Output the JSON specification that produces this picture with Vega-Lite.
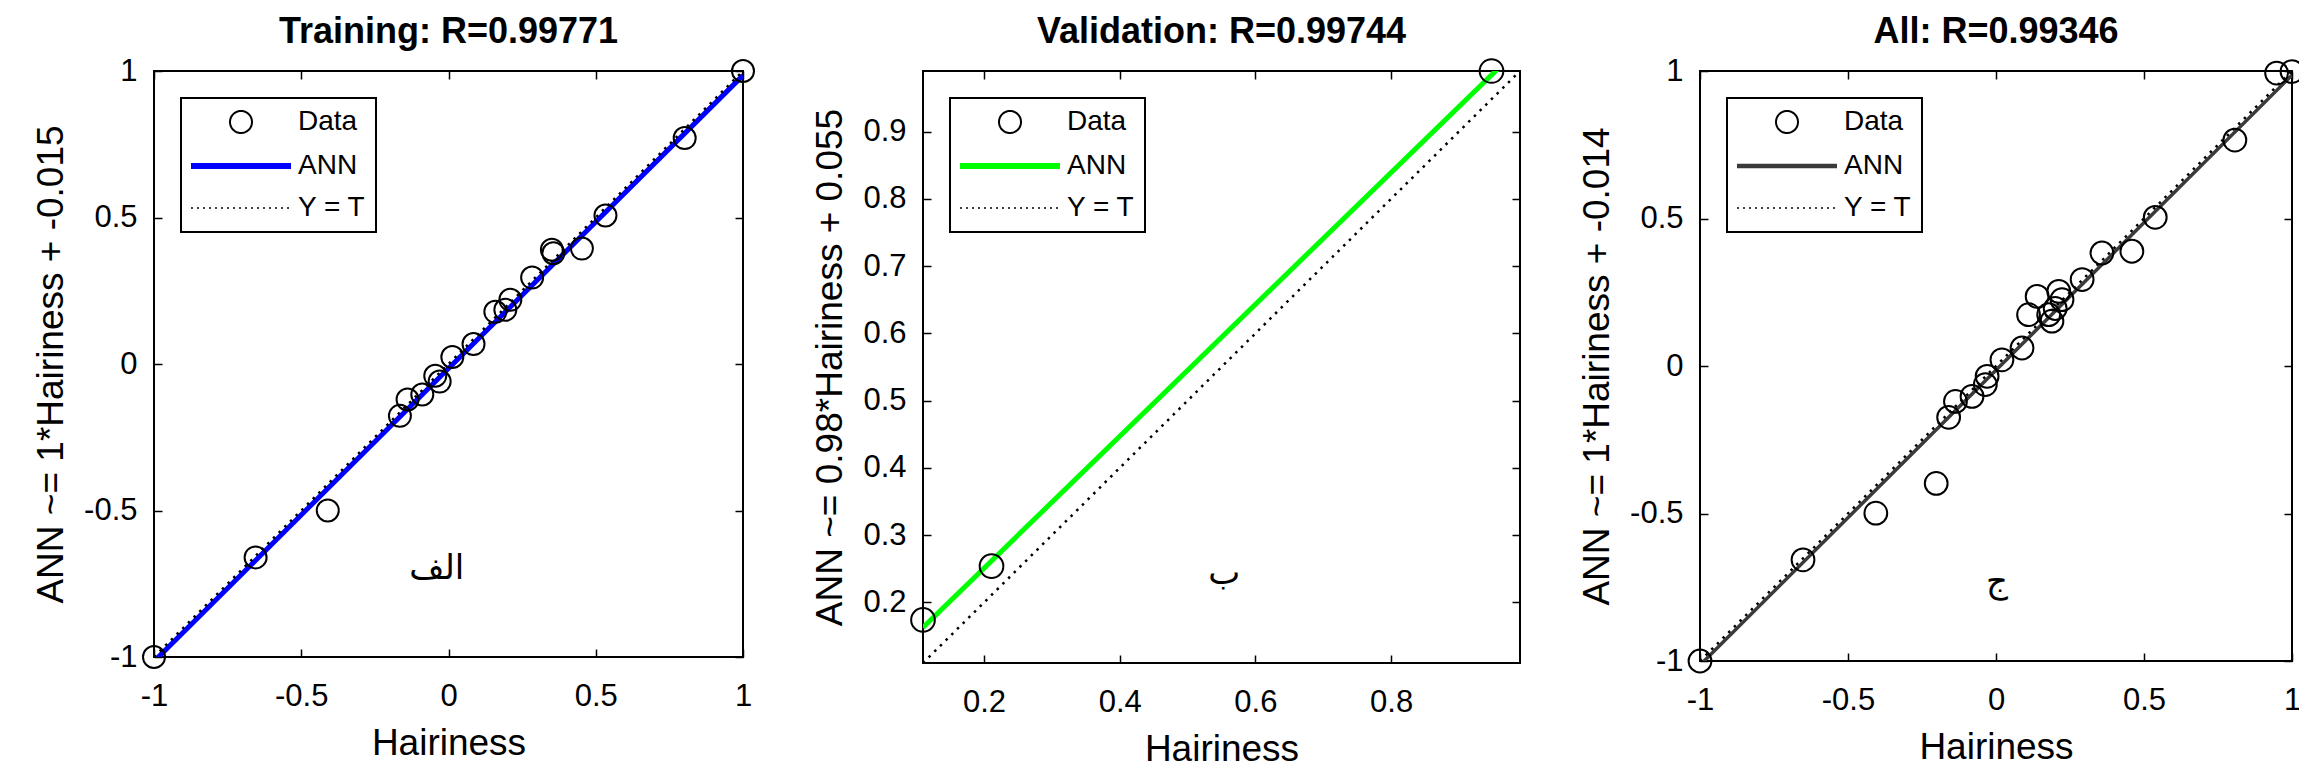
{
  "$schema": "https://vega.github.io/schema/vega-lite/v6.json",
  "padding": {"left": 31, "top": 13, "right": 0, "bottom": 0},
  "background": "white",
  "datasets": {
    "pts": [
      {"panel": "train", "series": "Data", "t": -1, "y": -1},
      {"panel": "train", "series": "Data", "t": -0.655, "y": -0.66},
      {"panel": "train", "series": "Data", "t": -0.41, "y": -0.5},
      {"panel": "train", "series": "Data", "t": -0.165, "y": -0.177},
      {"panel": "train", "series": "Data", "t": -0.139, "y": -0.121},
      {"panel": "train", "series": "Data", "t": -0.089, "y": -0.104},
      {"panel": "train", "series": "Data", "t": -0.045, "y": -0.04},
      {"panel": "train", "series": "Data", "t": -0.03, "y": -0.06},
      {"panel": "train", "series": "Data", "t": 0.013, "y": 0.024},
      {"panel": "train", "series": "Data", "t": 0.085, "y": 0.068},
      {"panel": "train", "series": "Data", "t": 0.159, "y": 0.178},
      {"panel": "train", "series": "Data", "t": 0.193, "y": 0.185},
      {"panel": "train", "series": "Data", "t": 0.21, "y": 0.219},
      {"panel": "train", "series": "Data", "t": 0.284, "y": 0.295},
      {"panel": "train", "series": "Data", "t": 0.351, "y": 0.39},
      {"panel": "train", "series": "Data", "t": 0.356, "y": 0.378},
      {"panel": "train", "series": "Data", "t": 0.453, "y": 0.394},
      {"panel": "train", "series": "Data", "t": 0.533, "y": 0.507},
      {"panel": "train", "series": "Data", "t": 0.802, "y": 0.771},
      {"panel": "train", "series": "Data", "t": 1, "y": 1},
      {"panel": "val", "series": "Data", "t": 0.11, "y": 0.174},
      {"panel": "val", "series": "Data", "t": 0.211, "y": 0.254},
      {"panel": "val", "series": "Data", "t": 0.948, "y": 0.99},
      {"panel": "all", "series": "Data", "t": -1, "y": -1},
      {"panel": "all", "series": "Data", "t": -0.652, "y": -0.657},
      {"panel": "all", "series": "Data", "t": -0.406, "y": -0.499},
      {"panel": "all", "series": "Data", "t": -0.202, "y": -0.398},
      {"panel": "all", "series": "Data", "t": -0.16, "y": -0.174},
      {"panel": "all", "series": "Data", "t": -0.137, "y": -0.12},
      {"panel": "all", "series": "Data", "t": -0.081, "y": -0.103},
      {"panel": "all", "series": "Data", "t": -0.036, "y": -0.063},
      {"panel": "all", "series": "Data", "t": -0.03, "y": -0.035},
      {"panel": "all", "series": "Data", "t": 0.02, "y": 0.021},
      {"panel": "all", "series": "Data", "t": 0.088, "y": 0.061},
      {"panel": "all", "series": "Data", "t": 0.11, "y": 0.174},
      {"panel": "all", "series": "Data", "t": 0.139, "y": 0.236},
      {"panel": "all", "series": "Data", "t": 0.178, "y": 0.174},
      {"panel": "all", "series": "Data", "t": 0.189, "y": 0.152},
      {"panel": "all", "series": "Data", "t": 0.2, "y": 0.195},
      {"panel": "all", "series": "Data", "t": 0.212, "y": 0.253},
      {"panel": "all", "series": "Data", "t": 0.223, "y": 0.225},
      {"panel": "all", "series": "Data", "t": 0.291, "y": 0.293},
      {"panel": "all", "series": "Data", "t": 0.358, "y": 0.383},
      {"panel": "all", "series": "Data", "t": 0.459, "y": 0.389},
      {"panel": "all", "series": "Data", "t": 0.538, "y": 0.504},
      {"panel": "all", "series": "Data", "t": 0.807, "y": 0.766},
      {"panel": "all", "series": "Data", "t": 0.948, "y": 0.993},
      {"panel": "all", "series": "Data", "t": 1, "y": 0.998}
    ],
    "fits": [
      {"panel": "train", "series": "ANN", "t": -1, "y": -1.015},
      {"panel": "train", "series": "ANN", "t": 1, "y": 0.985},
      {"panel": "train", "series": "Y = T", "t": -1, "y": -1},
      {"panel": "train", "series": "Y = T", "t": 1, "y": 1},
      {"panel": "val", "series": "ANN", "t": 0.11, "y": 0.1628},
      {"panel": "val", "series": "ANN", "t": 0.99, "y": 1.0252},
      {"panel": "val", "series": "Y = T", "t": 0.11, "y": 0.11},
      {"panel": "val", "series": "Y = T", "t": 0.99, "y": 0.99},
      {"panel": "all", "series": "ANN", "t": -1, "y": -1.014},
      {"panel": "all", "series": "ANN", "t": 1, "y": 0.986},
      {"panel": "all", "series": "Y = T", "t": -1, "y": -1},
      {"panel": "all", "series": "Y = T", "t": 1, "y": 1}
    ],
    "notes": [
      {"panel": "train", "t": -0.04, "y": -0.7, "label": "الف"},
      {"panel": "val", "t": 0.554, "y": 0.242, "label": "ب"},
      {"panel": "all", "t": 0.003, "y": -0.733, "label": "ج"}
    ]
  },
  "spacing": 180,
  "bounds": "flush",
  "resolve": {
    "scale": {"x": "independent", "y": "independent", "color": "independent"},
    "legend": {"color": "independent"}
  },
  "hconcat": [
    {
      "width": 589,
      "height": 586,
      "title": {"text": "Training: R=0.99771", "offset": 4, "anchor": "middle", "frame": "group"},
      "layer": [
        {
          "data": {"name": "fits"},
          "transform": [{"filter": "datum.panel === 'train' && datum.series === 'ANN'"}],
          "mark": {"type": "line", "strokeWidth": 5, "clip": true},
          "encoding": {
            "x": {"field": "t", "type": "quantitative", "scale": {"domain": [-1, 1], "nice": false, "zero": false},
                  "axis": {"orient": "bottom", "values": [-1, -0.5, 0, 0.5, 1], "title": "Hairiness", "labelExpr": "'' + datum.value", "labelPadding": 32, "titlePadding": 14}},
            "y": {"field": "y", "type": "quantitative", "scale": {"domain": [-1, 1], "nice": false, "zero": false},
                  "axis": {"orient": "left", "values": [-1, -0.5, 0, 0.5, 1], "title": "ANN ~= 1*Hairiness + -0.015", "labelExpr": "'' + datum.value", "labelPadding": 25, "titlePadding": 13}},
            "color": {"field": "series", "type": "nominal",
                      "scale": {"domain": ["Data", "ANN", "Y = T"], "range": ["#000000", "#0000ff", "#000000"]},
                      "legend": {
                        "orient": "top-left", "offset": 27, "title": null,
                        "strokeColor": "black", "fillColor": "white", "padding": 10,
                        "labelFont": "Liberation Sans", "labelFontSize": 28, "labelColor": "black",
                        "symbolSize": 400, "symbolStrokeWidth": 2, "labelOffset": 79, "rowPadding": 14,
                        "encode": {
                          "legend": {"update": {"strokeWidth": {"value": 2}}},
                          "symbols": {"update": {
                          "shape": {"signal": "datum.value === 'Data' ? 'M2.5,0A1.1,1.1 0 1,0 4.7,0A1.1,1.1 0 1,0 2.5,0Z' : 'M-1.4,0H8.6'"},
                          "strokeWidth": {"signal": "datum.value === 'ANN' ? 6 : (datum.value === 'Data' ? 2 : 1.6)"},
                          "strokeDash": {"signal": "datum.value === 'Y = T' ? [2, 4] : [1, 0]"},
                          "stroke": {"signal": "datum.value === 'ANN' ? '#0000ff' : '#000000'"},
                          "fill": {"value": "transparent"},
                          "opacity": {"value": 1}
                        }}}
                      }}
          }
        },
        {
          "data": {"name": "fits"},
          "transform": [{"filter": "datum.panel === 'train' && datum.series === 'Y = T'"}],
          "mark": {"type": "line", "strokeWidth": 2.5, "strokeDash": [2.5, 5.5], "clip": true},
          "encoding": {
            "x": {"field": "t", "type": "quantitative", "axis": {"orient": "top", "values": [-1, -0.5, 0, 0.5, 1], "labels": false, "title": null}},
            "y": {"field": "y", "type": "quantitative", "axis": {"orient": "right", "values": [-1, -0.5, 0, 0.5, 1], "labels": false, "title": null}},
            "color": {"field": "series", "type": "nominal"}
          }
        },
        {
          "data": {"name": "pts"},
          "transform": [{"filter": "datum.panel === 'train'"}],
          "mark": {"type": "point", "filled": false, "size": 484, "strokeWidth": 2, "opacity": 1},
          "encoding": {
            "x": {"field": "t", "type": "quantitative", "axis": null},
            "y": {"field": "y", "type": "quantitative", "axis": null},
            "color": {"field": "series", "type": "nominal"}
          }
        },
        {
          "data": {"name": "notes"},
          "transform": [{"filter": "datum.panel === 'train'"}],
          "mark": {"type": "text", "font": "DejaVu Sans", "fontSize": 34, "color": "black"},
          "encoding": {
            "x": {"field": "t", "type": "quantitative", "axis": null},
            "y": {"field": "y", "type": "quantitative", "axis": null},
            "text": {"field": "label"}
          }
        }
      ]
    },
    {
      "width": 597,
      "height": 592,
      "title": {"text": "Validation: R=0.99744", "offset": 4, "anchor": "middle", "frame": "group"},
      "layer": [
        {
          "data": {"name": "fits"},
          "transform": [{"filter": "datum.panel === 'val' && datum.series === 'ANN'"}],
          "mark": {"type": "line", "strokeWidth": 5, "clip": true},
          "encoding": {
            "x": {"field": "t", "type": "quantitative", "scale": {"domain": [0.11, 0.99], "nice": false, "zero": false},
                  "axis": {"orient": "bottom", "values": [0.2, 0.4, 0.6, 0.8], "title": "Hairiness", "labelExpr": "'' + datum.value", "labelPadding": 32, "titlePadding": 14}},
            "y": {"field": "y", "type": "quantitative", "scale": {"domain": [0.11, 0.99], "nice": false, "zero": false},
                  "axis": {"orient": "left", "values": [0.2, 0.3, 0.4, 0.5, 0.6, 0.7, 0.8, 0.9], "title": "ANN ~= 0.98*Hairiness + 0.055", "labelExpr": "'' + datum.value", "labelPadding": 25, "titlePadding": 13}},
            "color": {"field": "series", "type": "nominal",
                      "scale": {"domain": ["Data", "ANN", "Y = T"], "range": ["#000000", "#00ff00", "#000000"]},
                      "legend": {
                        "orient": "top-left", "offset": 27, "title": null,
                        "strokeColor": "black", "fillColor": "white", "padding": 10,
                        "labelFont": "Liberation Sans", "labelFontSize": 28, "labelColor": "black",
                        "symbolSize": 400, "symbolStrokeWidth": 2, "labelOffset": 79, "rowPadding": 14,
                        "encode": {
                          "legend": {"update": {"strokeWidth": {"value": 2}}},
                          "symbols": {"update": {
                          "shape": {"signal": "datum.value === 'Data' ? 'M2.5,0A1.1,1.1 0 1,0 4.7,0A1.1,1.1 0 1,0 2.5,0Z' : 'M-1.4,0H8.6'"},
                          "strokeWidth": {"signal": "datum.value === 'ANN' ? 6 : (datum.value === 'Data' ? 2 : 1.6)"},
                          "strokeDash": {"signal": "datum.value === 'Y = T' ? [2, 4] : [1, 0]"},
                          "stroke": {"signal": "datum.value === 'ANN' ? '#00ff00' : '#000000'"},
                          "fill": {"value": "transparent"},
                          "opacity": {"value": 1}
                        }}}
                      }}
          }
        },
        {
          "data": {"name": "fits"},
          "transform": [{"filter": "datum.panel === 'val' && datum.series === 'Y = T'"}],
          "mark": {"type": "line", "strokeWidth": 2.5, "strokeDash": [2.5, 5.5], "clip": true},
          "encoding": {
            "x": {"field": "t", "type": "quantitative", "axis": {"orient": "top", "values": [0.2, 0.4, 0.6, 0.8], "labels": false, "title": null}},
            "y": {"field": "y", "type": "quantitative", "axis": {"orient": "right", "values": [0.2, 0.3, 0.4, 0.5, 0.6, 0.7, 0.8, 0.9], "labels": false, "title": null}},
            "color": {"field": "series", "type": "nominal"}
          }
        },
        {
          "data": {"name": "pts"},
          "transform": [{"filter": "datum.panel === 'val'"}],
          "mark": {"type": "point", "filled": false, "size": 560, "strokeWidth": 2, "opacity": 1},
          "encoding": {
            "x": {"field": "t", "type": "quantitative", "axis": null},
            "y": {"field": "y", "type": "quantitative", "axis": null},
            "color": {"field": "series", "type": "nominal"}
          }
        },
        {
          "data": {"name": "notes"},
          "transform": [{"filter": "datum.panel === 'val'"}],
          "mark": {"type": "text", "font": "DejaVu Sans", "fontSize": 34, "color": "black"},
          "encoding": {
            "x": {"field": "t", "type": "quantitative", "axis": null},
            "y": {"field": "y", "type": "quantitative", "axis": null},
            "text": {"field": "label"}
          }
        }
      ]
    },
    {
      "width": 592,
      "height": 590,
      "title": {"text": "All: R=0.99346", "offset": 4, "anchor": "middle", "frame": "group"},
      "layer": [
        {
          "data": {"name": "fits"},
          "transform": [{"filter": "datum.panel === 'all' && datum.series === 'ANN'"}],
          "mark": {"type": "line", "strokeWidth": 3.5, "clip": true},
          "encoding": {
            "x": {"field": "t", "type": "quantitative", "scale": {"domain": [-1, 1], "nice": false, "zero": false},
                  "axis": {"orient": "bottom", "values": [-1, -0.5, 0, 0.5, 1], "title": "Hairiness", "labelExpr": "'' + datum.value", "labelPadding": 32, "titlePadding": 14}},
            "y": {"field": "y", "type": "quantitative", "scale": {"domain": [-1, 1], "nice": false, "zero": false},
                  "axis": {"orient": "left", "values": [-1, -0.5, 0, 0.5, 1], "title": "ANN ~= 1*Hairiness + -0.014", "labelExpr": "'' + datum.value", "labelPadding": 25, "titlePadding": 13}},
            "color": {"field": "series", "type": "nominal",
                      "scale": {"domain": ["Data", "ANN", "Y = T"], "range": ["#000000", "#3a3a3a", "#000000"]},
                      "legend": {
                        "orient": "top-left", "offset": 27, "title": null,
                        "strokeColor": "black", "fillColor": "white", "padding": 10,
                        "labelFont": "Liberation Sans", "labelFontSize": 28, "labelColor": "black",
                        "symbolSize": 400, "symbolStrokeWidth": 2, "labelOffset": 79, "rowPadding": 14,
                        "encode": {
                          "legend": {"update": {"strokeWidth": {"value": 2}}},
                          "symbols": {"update": {
                          "shape": {"signal": "datum.value === 'Data' ? 'M2.5,0A1.1,1.1 0 1,0 4.7,0A1.1,1.1 0 1,0 2.5,0Z' : 'M-1.4,0H8.6'"},
                          "strokeWidth": {"signal": "datum.value === 'ANN' ? 4.5 : (datum.value === 'Data' ? 2 : 1.6)"},
                          "strokeDash": {"signal": "datum.value === 'Y = T' ? [2, 4] : [1, 0]"},
                          "stroke": {"signal": "datum.value === 'ANN' ? '#3a3a3a' : '#000000'"},
                          "fill": {"value": "transparent"},
                          "opacity": {"value": 1}
                        }}}
                      }}
          }
        },
        {
          "data": {"name": "fits"},
          "transform": [{"filter": "datum.panel === 'all' && datum.series === 'Y = T'"}],
          "mark": {"type": "line", "strokeWidth": 2.5, "strokeDash": [2.5, 5.5], "clip": true},
          "encoding": {
            "x": {"field": "t", "type": "quantitative", "axis": {"orient": "top", "values": [-1, -0.5, 0, 0.5, 1], "labels": false, "title": null}},
            "y": {"field": "y", "type": "quantitative", "axis": {"orient": "right", "values": [-1, -0.5, 0, 0.5, 1], "labels": false, "title": null}},
            "color": {"field": "series", "type": "nominal"}
          }
        },
        {
          "data": {"name": "pts"},
          "transform": [{"filter": "datum.panel === 'all'"}],
          "mark": {"type": "point", "filled": false, "size": 520, "strokeWidth": 2, "opacity": 1},
          "encoding": {
            "x": {"field": "t", "type": "quantitative", "axis": null},
            "y": {"field": "y", "type": "quantitative", "axis": null},
            "color": {"field": "series", "type": "nominal"}
          }
        },
        {
          "data": {"name": "notes"},
          "transform": [{"filter": "datum.panel === 'all'"}],
          "mark": {"type": "text", "font": "DejaVu Sans", "fontSize": 34, "color": "black"},
          "encoding": {
            "x": {"field": "t", "type": "quantitative", "axis": null},
            "y": {"field": "y", "type": "quantitative", "axis": null},
            "text": {"field": "label"}
          }
        }
      ]
    }
  ],
  "config": {
    "view": {"stroke": "#000000", "strokeWidth": 2},
    "axis": {
      "domain": false, "grid": false, "ticks": true, "tickSize": -8, "tickColor": "#000000", "tickWidth": 1.5,
      "labelFont": "Liberation Sans", "labelFontSize": 31, "labelColor": "#000000",
      "labelFlush": false, "labelOverlap": false,
      "titleFont": "Liberation Sans", "titleFontSize": 37, "titleFontWeight": "normal", "titleColor": "#000000"
    },
    "title": {"font": "Liberation Sans", "fontSize": 36, "fontWeight": "bold", "color": "#000000"}
  }
}
